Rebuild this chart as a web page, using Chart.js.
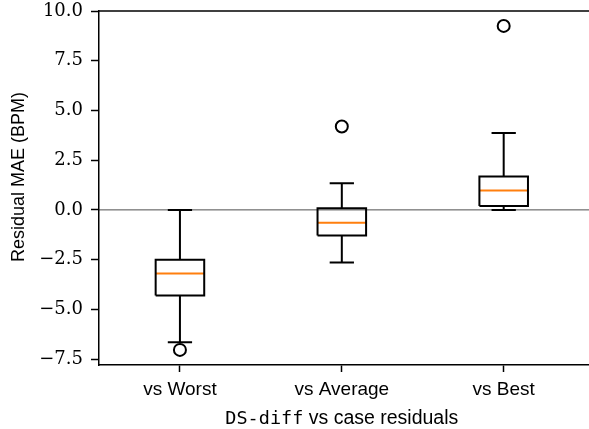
<!DOCTYPE html>
<html>
<head>
<meta charset="utf-8">
<script src="https://cdn.jsdelivr.net/npm/chart.js@4"></script>
<style>
  html, body { margin: 0; padding: 0; background: #fff; overflow: hidden; }
  #wrap { width: 589px; height: 429px; overflow: hidden; }
</style>
</head>
<body>
<div id="wrap"><canvas id="boxChart" width="597" height="429"></canvas></div>
<script>
// box plot summary per group
var categories = ['vs Worst', 'vs Average', 'vs Best'];
var positions = [1, 2, 3];
var whiskerLow = [-6.65, -2.65, 0.0];
var q1 = [-4.31, -1.29, 0.2];
var median = [-3.2, -0.65, 0.97];
var q3 = [-2.51, 0.08, 1.68];
var whiskerHigh = [0.0, 1.34, 3.86];
var outliers = [[-7.04], [4.19], [9.25]];
var yTicks = [-7.5, -5.0, -2.5, 0.0, 2.5, 5.0, 7.5, 10.0];

var boxWidth = 0.3;
var xMin = 0.5, xMax = 3.527;

// build line segments for boxes, whiskers and medians (null breaks the line)
var boxPts = [], whiskerPts = [], medianPts = [], outlierPts = [];
positions.forEach(function (p, i) {
    var h = boxWidth / 2, c = boxWidth / 4;
    boxPts.push({x: p - h, y: q1[i]}, {x: p + h, y: q1[i]}, {x: p + h, y: q3[i]},
                {x: p - h, y: q3[i]}, {x: p - h, y: q1[i]}, {x: p, y: null});
    whiskerPts.push({x: p, y: q1[i]}, {x: p, y: whiskerLow[i]}, {x: p, y: null},
                    {x: p, y: q3[i]}, {x: p, y: whiskerHigh[i]}, {x: p, y: null},
                    {x: p - c, y: whiskerLow[i]}, {x: p + c, y: whiskerLow[i]}, {x: p, y: null},
                    {x: p - c, y: whiskerHigh[i]}, {x: p + c, y: whiskerHigh[i]}, {x: p, y: null});
    medianPts.push({x: p - h, y: median[i]}, {x: p + h, y: median[i]}, {x: p, y: null});
    outliers[i].forEach(function (v) { outlierPts.push({x: p, y: v}); });
});

function fmt(v) {
    var s = Math.abs(v).toFixed(1);
    return v < 0 ? '\u2212' + s : s;
}

// top spine, y label and mixed-font x axis title
var extras = {
    id: 'extras',
    afterDraw: function (chart) {
        var ctx = chart.ctx, a = chart.chartArea;
        ctx.save();
        ctx.strokeStyle = '#000';
        ctx.lineWidth = 1.5;
        ctx.beginPath();
        ctx.moveTo(a.left, a.top);
        ctx.lineTo(a.right, a.top);
        ctx.stroke();

        ctx.fillStyle = '#000';
        ctx.textAlign = 'left';
        ctx.textBaseline = 'alphabetic';

        var part1 = 'DS-diff', part2 = ' vs case residuals';
        var f1 = '18.5px "DejaVu Sans Mono"', f2 = '19.5px "Liberation Sans"';
        ctx.font = f1; var w1 = ctx.measureText(part1).width;
        ctx.font = f2; var w2 = ctx.measureText(part2).width;
        var cx = chart.scales.x.getPixelForValue(2);
        var x0 = cx - (w1 + w2) / 2, y0 = 424;
        ctx.font = f1; ctx.fillText(part1, x0, y0);
        ctx.font = f2; ctx.fillText(part2, x0 + w1, y0);

        ctx.translate(24, 177);
        ctx.rotate(-Math.PI / 2);
        ctx.font = '18px "Liberation Sans"';
        ctx.textAlign = 'center';
        ctx.fillText('Residual MAE (BPM)', 0, 0);
        ctx.restore();
    }
};

new Chart(document.getElementById('boxChart').getContext('2d'), {
    type: 'scatter',
    data: {
        datasets: [
            {data: [{x: xMin, y: 0}, {x: xMax, y: 0}], showLine: true, pointRadius: 0,
             borderColor: 'rgba(0,0,0,0.7)', borderWidth: 1},
            {data: boxPts, showLine: true, pointRadius: 0, spanGaps: false,
             borderColor: '#000', borderWidth: 2},
            {data: whiskerPts, showLine: true, pointRadius: 0, spanGaps: false,
             borderColor: '#000', borderWidth: 2},
            {data: medianPts, showLine: true, pointRadius: 0, spanGaps: false,
             borderColor: '#ff7f0e', borderWidth: 2},
            {data: outlierPts, showLine: false, pointStyle: 'circle', pointRadius: 6,
             pointBorderWidth: 2, pointBorderColor: '#000', pointBackgroundColor: 'rgba(0,0,0,0)'}
        ]
    },
    options: {
        responsive: false,
        animation: false,
        layout: {padding: {top: 11, right: 0, left: 0, bottom: 0}},
        plugins: {legend: {display: false}, tooltip: {enabled: false}},
        scales: {
            x: {
                type: 'linear',
                min: xMin,
                max: xMax,
                afterBuildTicks: function (scale) {
                    scale.ticks = positions.map(function (p) { return {value: p}; });
                },
                afterFit: function (scale) {
                    scale.height = 64;
                    scale.paddingLeft = 0;
                    scale.paddingRight = 0;
                },
                ticks: {
                    callback: function (v) { return categories[positions.indexOf(v)]; },
                    color: '#000',
                    font: {family: '"Liberation Sans"', size: 19},
                    padding: 6,
                    maxRotation: 0,
                    autoSkip: false
                },
                grid: {drawOnChartArea: false, drawTicks: true, tickLength: 7, tickColor: '#000', tickWidth: 1.5},
                border: {display: true, color: '#000', width: 1.5},
                title: {display: false}
            },
            y: {
                min: -7.8,
                max: 10,
                afterBuildTicks: function (scale) {
                    scale.ticks = yTicks.map(function (v) { return {value: v}; });
                },
                afterFit: function (scale) {
                    scale.width = 99;
                    scale.paddingTop = 0;
                    scale.paddingBottom = 0;
                },
                ticks: {
                    callback: function (v) { return fmt(v); },
                    color: '#000',
                    font: {family: '"DejaVu Serif"', size: 18},
                    padding: 8
                },
                grid: {drawOnChartArea: false, drawTicks: true, tickLength: 8, tickColor: '#000', tickWidth: 1.5},
                border: {display: true, color: '#000', width: 1.5},
                title: {display: false}
            }
        }
    },
    plugins: [extras]
});
</script>
</body>
</html>
